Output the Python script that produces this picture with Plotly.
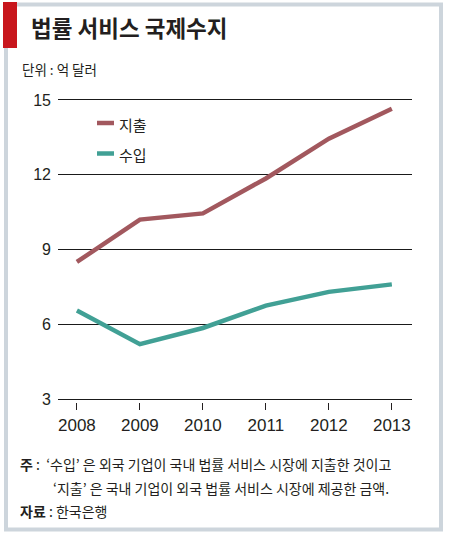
import plotly.graph_objects as go

years = [2008, 2009, 2010, 2011, 2012, 2013]
expense = [8.5, 10.2, 10.45, 11.85, 13.45, 14.65]   # 지출
income = [6.55, 5.2, 5.85, 6.75, 7.3, 7.6]          # 수입
series_names = ["지출", "수입"]
y_ticks = [3, 6, 9, 12, 15]

W, H = 449, 536
L, R, T, B = 58, 37, 97, 134
PW, PH = W - L - R, H - T - B

def px(x):
    return (x - L) / PW

def py(y):
    return (H - B - y) / PH

KR = "Noto Sans CJK KR"
NUM = "Liberation Sans, Arial, sans-serif"
TXT = "#231f20"
C_EXP = "#a2585e"
C_INC = "#41a095"

fig = go.Figure()
fig.add_trace(go.Scatter(x=years, y=expense, mode="lines", name=series_names[0],
                         line=dict(color=C_EXP, width=4.5), cliponaxis=False, showlegend=False))
fig.add_trace(go.Scatter(x=years, y=income, mode="lines", name=series_names[1],
                         line=dict(color=C_INC, width=4.5), cliponaxis=False, showlegend=False))

shapes = []
# outer frame
shapes.append(dict(type="rect", xref="paper", yref="paper",
                   x0=px(6), x1=px(441), y0=py(4.5), y1=py(529.5),
                   line=dict(color="#cdd5dc", width=4), fillcolor="rgba(0,0,0,0)", layer="below"))
# red bar
shapes.append(dict(type="rect", xref="paper", yref="paper",
                   x0=px(3), x1=px(17), y0=py(2), y1=py(48),
                   line=dict(width=0), fillcolor="#c8161d"))
# legend lines
for yy, c in [(123, C_EXP), (153.5, C_INC)]:
    shapes.append(dict(type="line", xref="paper", yref="paper",
                       x0=px(97), x1=px(114), y0=py(yy), y1=py(yy),
                       line=dict(color=c, width=4.5)))

ann = []
def text(x, y, s, size, anchor="left", family=KR):
    ann.append(dict(xref="paper", yref="paper", x=px(x), y=py(y), text=s, showarrow=False,
                    xanchor=anchor, yanchor="middle",
                    font=dict(family=family, size=size, color=TXT)))

text(29, 27, "<b>법률 서비스 국제수지</b>", 22.5)
text(20, 69, "단위 : 억 달러", 13.5)
text(117, 124, series_names[0], 15)
text(117, 154, series_names[1], 15)
text(18, 464, "<b>주</b>&nbsp;:&nbsp;&nbsp;‘수입’ 은 외국 기업이 국내 법률 서비스 시장에 지출한 것이고", 14)
text(51, 488, "‘지출’ 은 국내 기업이 외국 법률 서비스 시장에 제공한 금액.", 14)
text(18, 511, "<b>자료</b>&nbsp;:&nbsp;한국은행", 14)

fig.update_layout(
    width=W, height=H,
    margin=dict(l=L, r=R, t=T, b=B, pad=0),
    paper_bgcolor="white", plot_bgcolor="white",
    shapes=shapes, annotations=ann,
    xaxis=dict(range=[2007.7, 2013.32], tickvals=years, ticktext=[str(y) for y in years],
               showgrid=False, zeroline=False, showline=False,
               ticks="outside", ticklen=7, tickcolor=TXT, tickwidth=1,
               tickfont=dict(family=NUM, size=17, color=TXT), ticklabelstandoff=1),
    yaxis=dict(range=[2.88, 15.12], tickvals=y_ticks, showgrid=True, gridcolor="#1a1a1a",
               gridwidth=1, zeroline=False, showline=False, ticks="",
               tickfont=dict(family=NUM, size=16, color=TXT), ticklabelstandoff=6),
    showlegend=False,
)

fig.write_html("out.html", config={"displayModeBar": False},
               post_script="document.body.style.margin='0';document.body.style.padding='0';")
